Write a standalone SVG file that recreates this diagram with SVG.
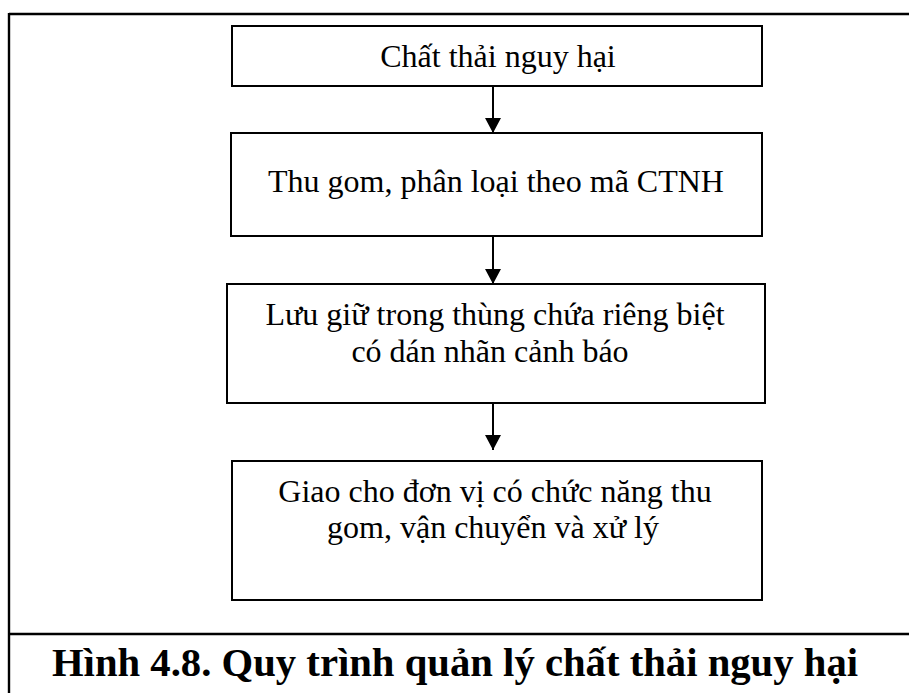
<svg xmlns="http://www.w3.org/2000/svg" width="909" height="693" viewBox="0 0 909 693">
  <defs>
    <marker id="arrowhead" markerWidth="16" markerHeight="16" refX="15" refY="8" orient="auto" markerUnits="userSpaceOnUse">
      <path d="M0,0 L15,8 L0,16 Z" fill="#000"/>
    </marker>
    <style>
      .frame { stroke: #000; stroke-width: 2.4; fill: none; }
      .box { fill: #fff; stroke: #000; stroke-width: 2; }
      .label { font-family: "Liberation Serif", "Times New Roman", serif; font-size: 32px; fill: #000; text-anchor: middle; }
      .caption { font-family: "Liberation Serif", "Times New Roman", serif; font-size: 40.7px; font-weight: bold; fill: #000; text-anchor: middle; }
      .conn { stroke: #000; stroke-width: 2; fill: none; marker-end: url(#arrowhead); }
    </style>
  </defs>

  <rect width="909" height="693" fill="#fff"/>

  <!-- outer table frame -->
  <g id="frame">
    <line class="frame" x1="9" y1="14" x2="909" y2="14"/>
    <line class="frame" x1="9" y1="13" x2="9" y2="693"/>
    <line class="frame" x1="9" y1="634" x2="909" y2="634"/>
  </g>

  <g id="node-1">
    <rect class="box" x="232" y="26" width="530" height="60"/>
    <text class="label" x="498" y="67">Chất thải nguy hại</text>
  </g>

  <g id="node-2">
    <rect class="box" x="231" y="133" width="531" height="103"/>
    <text class="label" x="496" y="192">Thu gom, phân loại theo mã CTNH</text>
  </g>

  <g id="node-3">
    <rect class="box" x="227" y="284" width="538" height="119"/>
    <text class="label" x="495" y="325">Lưu giữ trong thùng chứa riêng biệt</text>
    <text class="label" x="490" y="362">có dán nhãn cảnh báo</text>
  </g>

  <g id="node-4">
    <rect class="box" x="232" y="461" width="530" height="139"/>
    <text class="label" x="495" y="502">Giao cho đơn vị có chức năng thu</text>
    <text class="label" x="493" y="538">gom, vận chuyển và xử lý</text>
  </g>

  <g id="connectors">
    <line class="conn" x1="493" y1="86" x2="493" y2="133"/>
    <line class="conn" x1="493" y1="236" x2="493" y2="284"/>
    <line class="conn" x1="493" y1="403" x2="493" y2="450"/>
  </g>

  <g id="caption">
    <text class="caption" x="455" y="676">Hình 4.8. Quy trình quản lý chất thải nguy hại</text>
  </g>
</svg>
